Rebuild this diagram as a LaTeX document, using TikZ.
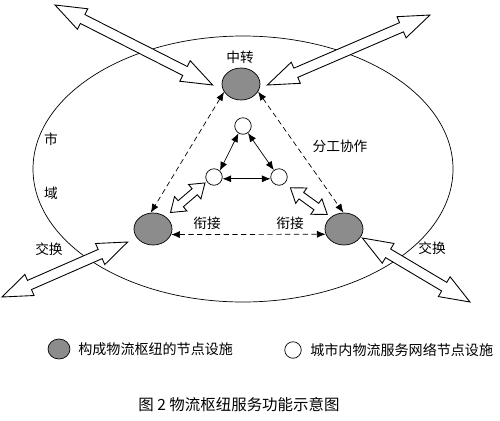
\documentclass[tikz,border=0pt]{standalone}
\usepackage{fontspec}
\newfontfamily\cjk{Noto Sans CJK SC}
\usetikzlibrary{shapes.geometric}
\usetikzlibrary{arrows.meta, calc}

\tikzset{
  hubnode/.style={ellipse, draw, fill=black!45, minimum width=0.76cm, minimum height=0.64cm, inner sep=0pt},
  citynode/.style={circle, draw, fill=white, minimum size=0.33cm, inner sep=0pt},
  fatline/.style={draw, fill=white, line width=0.5pt, line join=miter},
  dasharrow/.style={{Latex[length=5pt,width=4pt]}-{Latex[length=5pt,width=4pt]}, dash pattern=on 3pt off 2pt},
  linkarrow/.style={{Latex[length=5pt,width=4pt]}-{Latex[length=5pt,width=4pt]}},
  txt/.style={font=\cjk\fontsize{7.8}{9}\selectfont, inner sep=1pt},
  legendtxt/.style={font=\cjk\fontsize{8}{10}\selectfont, inner sep=0pt, anchor=west},
}

% hollow double arrow: start, end, shaft half width, head half width, head length
\newcommand\fatarrow[5]{%
  \coordinate (fa1) at ($(#1)!#5!(#2)$);
  \coordinate (fa2) at ($(#2)!#5!(#1)$);
  \draw[fatline] (#1) -- ($(fa1)!#4!90:(#2)$) -- ($(fa1)!#3!90:(#2)$)
    -- ($(fa2)!#3!-90:(#1)$) -- ($(fa2)!#4!-90:(#1)$) -- (#2)
    -- ($(fa2)!#4!90:(#1)$) -- ($(fa2)!#3!90:(#1)$)
    -- ($(fa1)!#3!-90:(#2)$) -- ($(fa1)!#4!-90:(#2)$) -- cycle;
}

\begin{document}
\begin{tikzpicture}[x=0.02cm, y=-0.02cm]
\useasboundingbox (0,0) rectangle (500,420);

% Draw city region
\draw (243,169) ellipse [x radius=210, y radius=133];

% Draw hub nodes
\node[hubnode] (hubT) at (241,84) {};
\node[hubnode] (hubL) at (153,229) {};
\node[hubnode] (hubR) at (344,229) {};

% Draw city network nodes
\node[citynode] (cityT) at (243,126) {};
\node[citynode] (cityL) at (214,177) {};
\node[citynode] (cityR) at (279,177) {};

% Draw dashed arrows between hubs
\draw[dasharrow] (hubT.205) -- (hubL.98);
\draw[dasharrow] (hubT.336) -- (hubR.92);
\draw[dasharrow] (hubL.-17) -- (hubR.196);

% Draw arrows between city nodes
\draw[linkarrow] (cityT.238) -- (cityL.47);
\draw[linkarrow] (cityT.305) -- (cityR.127);
\draw[linkarrow] (cityL.-12) -- (cityR.192);

% Draw exchange arrows
\coordinate (outTL) at (55,5);
\coordinate (inTL) at ([shift={(-9,1)}]hubT.west);
\coordinate (outTR) at (430,15);
\coordinate (inTR) at ([shift={(7,1)}]hubT.east);
\coordinate (outBL) at (2,297);
\coordinate (inBL) at ([shift={(-6,13)}]hubL.west);
\coordinate (outBR) at (470,302);
\coordinate (inBR) at ([shift={(-1,9)}]hubR.east);
\fatarrow{outTL}{inTL}{0.1cm}{0.23cm}{0.62cm}
\fatarrow{outTR}{inTR}{0.1cm}{0.23cm}{0.62cm}
\fatarrow{outBL}{inBL}{0.1cm}{0.23cm}{0.6cm}
\fatarrow{outBR}{inBR}{0.1cm}{0.23cm}{0.6cm}

% Draw link arrows
\coordinate (hubLlink) at ([shift={(5,-4)}]hubL.45);
\coordinate (cityLlink) at ([shift={(-2,1)}]cityL.215);
\coordinate (cityRlink) at ([shift={(5,5)}]cityR.-42);
\coordinate (hubRlink) at ([shift={(-3,-3)}]hubR.140);
\fatarrow{hubLlink}{cityLlink}{0.08cm}{0.19cm}{0.27cm}
\fatarrow{cityRlink}{hubRlink}{0.08cm}{0.19cm}{0.27cm}

% Labels
\node[txt] (lbTransfer) at (240,57) {中转};
\node[txt] (lbCoop) at (340,146) {分工协作};
\node[txt] (lbCity1) at (51,139) {市};
\node[txt] (lbCity2) at (51,193) {域};
\node[txt] (lbJoinL) at (207,223) {衔接};
\node[txt] (lbJoinR) at (290,223) {衔接};
\node[txt] (lbSwapL) at (49,249) {交换};
\node[txt] (lbSwapR) at (432,248) {交换};

% Legend
\node[hubnode, minimum width=0.44cm, minimum height=0.4cm] (keyHub) at (59,349) {};
\node[legendtxt] (keyHubTxt) at (78,349) {构成物流枢纽的节点设施};
\node[citynode] (keyCity) at (293,350) {};
\node[legendtxt] (keyCityTxt) at (310,350) {城市内物流服务网络节点设施};

% Caption
\node[font=\cjk\fontsize{8.8}{10}\selectfont] (caption) at (239,405) {图 2 物流枢纽服务功能示意图};

\end{tikzpicture}
\end{document}
